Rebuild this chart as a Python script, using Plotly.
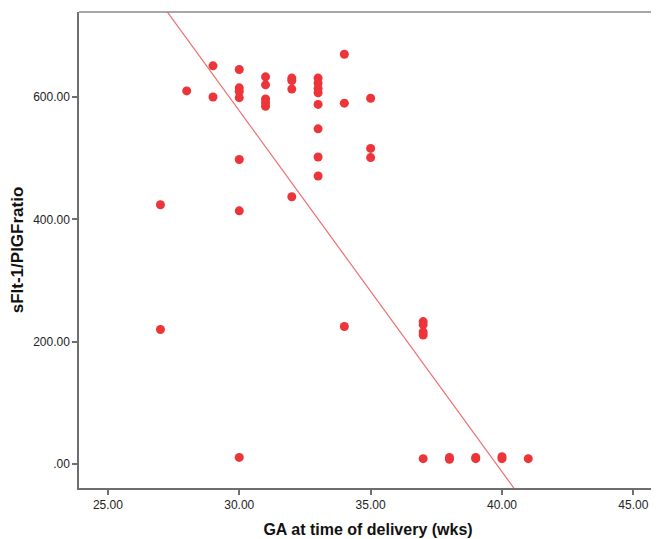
import plotly.graph_objects as go

# Gestational age at delivery (wks) and sFlt-1/PlGF ratio
ga = [27, 27,
      28,
      29, 29,
      30, 30, 30, 30, 30, 30, 30,
      31, 31, 31, 31, 31,
      32, 32, 32, 32,
      33, 33, 33, 33, 33, 33, 33, 33,
      34, 34, 34,
      35, 35, 35,
      37, 37, 37, 37, 37,
      38, 38,
      39, 39,
      40, 40,
      41]
ratio = [424, 220,
         610,
         651, 600,
         645, 615, 609, 599, 498, 414, 11,
         633, 620, 597, 591, 585,
         631, 627, 613, 437,
         631, 623, 614, 607, 588, 548, 502, 471,
         670, 590, 225,
         598, 516, 501,
         233, 228, 216, 211, 9,
         8, 11,
         9, 11,
         9, 12,
         9]

# Fit line (total-sample linear fit)
fit_intercept = 2347.5
fit_slope = -59.0

x_ticks = [25, 30, 35, 40, 45]
x_ticktext = ["25.00", "30.00", "35.00", "40.00", "45.00"]
y_ticks = [0, 200, 400, 600]
y_ticktext = [".00", "200.00", "400.00", "600.00"]

x_range = [23.9, 45.9]
y_range = [-39, 739]

fit_x = [x_range[0], x_range[1]]
fit_y = [fit_intercept + fit_slope * v for v in fit_x]

fig = go.Figure()
fig.add_trace(go.Scatter(
    x=fit_x, y=fit_y, mode="lines",
    line=dict(color="rgb(240,110,110)", width=1.2),
    hoverinfo="skip", showlegend=False, cliponaxis=True))
fig.add_trace(go.Scatter(
    x=ga, y=ratio, mode="markers",
    marker=dict(color="rgb(237,52,57)", size=9, line=dict(width=0)),
    showlegend=False))

tick_font = dict(family="Liberation Sans, Arial, sans-serif", size=12, color="#222")
title_font_x = dict(family="Liberation Sans, Arial, sans-serif", size=16, color="#111")
title_font_y = dict(family="Liberation Sans, Arial, sans-serif", size=17, color="#111")
fig.update_layout(
    width=651, height=531,
    margin=dict(l=71, r=2, t=4, b=51),
    paper_bgcolor="white", plot_bgcolor="white",
    font=tick_font,
    xaxis=dict(
        range=x_range, tickvals=x_ticks, ticktext=x_ticktext,
        showgrid=False, zeroline=False,
        showline=True, linecolor="#6e6e6e", linewidth=1.5,
        ticks="outside", ticklen=5, tickcolor="#6e6e6e", tickwidth=1.5,
        tickfont=tick_font, automargin=False,
        title=dict(text="<b>GA at time of delivery (wks)</b>",
                   font=title_font_x, standoff=13),
    ),
    yaxis=dict(
        range=y_range, tickvals=y_ticks, ticktext=y_ticktext,
        showgrid=False, zeroline=False,
        showline=True, linecolor="#6e6e6e", linewidth=1.5,
        ticks="outside", ticklen=5, tickcolor="#6e6e6e", tickwidth=1.5,
        tickfont=tick_font, automargin=False,
        title=dict(text="<b>sFlt-1/PlGFratio</b>",
                   font=title_font_y, standoff=12),
    ),
    shapes=[dict(type="line", xref="paper", yref="paper",
                 x0=0, x1=1.004, y0=1, y1=1,
                 line=dict(color="#8a8a8a", width=1.5))],
)

fig.write_html("out.html")
